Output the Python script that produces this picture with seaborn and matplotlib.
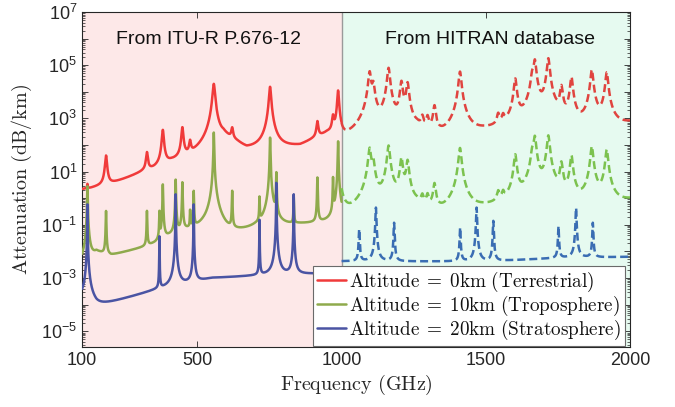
import numpy as np
import pandas as pd
import matplotlib
matplotlib.use("Agg")
import matplotlib.pyplot as plt
import seaborn as sns
from matplotlib.ticker import LogLocator, FuncFormatter, FixedLocator, NullLocator

# ---------------- data ----------------
# absorption lines: centre frequency (GHz), log10 of peak attenuation (dB/km), half width (GHz)
# ITU-R P.676-12 part (100-1000 GHz)
red_itu_f = [118.75, 183.31, 325.15, 380.20, 448.00, 474.69, 556.94, 620.70, 752.03, 916.17, 970.32, 987.93]
red_itu_p = [0.20, 1.58, 1.68, 2.56, 2.65, 2.06, 4.30, 2.60, 4.19, 2.89, 3.08, 4.05]
red_itu_w = [1.0, 3.0, 3.0, 3.0, 3.0, 3.0, 3.5, 3.0, 3.0, 3.0, 3.0, 2.5]
red_itu_bf = [100, 130, 197, 312, 350, 410, 485, 530, 590, 640, 671, 760, 856, 900, 950, 1000]
red_itu_bl = [-0.3, -0.3, 0.0, 0.7, 0.8, 1.15, 1.3, 1.5, 2.3, 2.0, 1.74, 1.8, 1.95, 2.2, 2.45, 2.4]

green_itu_f = [118.75, 183.31, 325.15, 368.50, 380.20, 424.76, 448.00, 474.69, 487.25, 556.94,
               620.70, 715.39, 752.03, 773.84, 834.15, 916.17, 970.32, 987.93]
green_itu_p = [0.45, -0.48, -0.48, -0.50, 0.52, 0.70, 0.60, -0.48, 0.27, 2.47,
               0.27, 0.03, 2.28, 0.97, 0.03, 0.78, 0.78, 2.14]
green_itu_w = [0.8] * len(green_itu_f)
green_itu_bf = [100, 150, 200, 310, 355, 400, 460, 520, 600, 700, 850, 1000]
green_itu_bl = [-2.8, -2.1, -2.3, -2.0, -1.85, -1.55, -1.3, -1.25, -1.5, -1.2, -1.0, -0.9]

blue_itu_f = [118.75, 368.50, 424.76, 487.25, 715.39, 773.84, 834.15]
blue_itu_p = [-0.23, -1.43, 0.15, -0.23, -0.81, 0.58, 0.15]
blue_itu_w = [0.37] * len(blue_itu_f)
blue_itu_bf = [100, 150, 360, 450, 550, 700, 1000]
blue_itu_bl = [-3.8, -4.08, -3.45, -3.25, -3.0, -2.92, -2.8]

# HITRAN part (1000-2000 GHz)
red_hit_f = [987.93, 1097.37, 1110.0, 1162.9, 1207.6, 1228.8, 1280.0, 1298.0, 1322.1, 1410.6,
             1543.0, 1560.0, 1602.2, 1661.0, 1669.9, 1716.8, 1762.0, 1797.0, 1867.7, 1919.4]
red_hit_p = [4.05, 4.76, 4.30, 4.90, 4.39, 4.34, 2.95, 2.95, 3.45, 4.76,
             3.03, 2.90, 4.49, 4.60, 5.20, 5.26, 4.20, 4.55, 4.83, 4.73]
red_hit_w = [2.5] + [4.0] * 19
red_hit_bf = [1000, 1029, 1130, 1200, 1260, 1352, 1491, 1560, 1625, 1830, 1950, 2000]
red_hit_bl = [1.0, 1.0, 1.0, 1.5, 2.3, 1.65, 2.15, 2.2, 1.5, 1.5, 2.5, 2.75]

green_hit_f = red_hit_f
green_hit_p = [2.14, 1.89, 1.40, 1.98, 1.52, 1.42, -0.05, 0.00, 0.52, 1.89,
               0.10, 0.00, 1.64, 1.70, 2.33, 2.36, 1.33, 1.60, 1.95, 1.83]
green_hit_w = [1.5] + [4.0] * 19
green_hit_bf = [1000, 1029, 1130, 1200, 1260, 1352, 1491, 1560, 1625, 1830, 1950, 2000]
green_hit_bl = [-1.9, -1.9, -1.9, -1.4, -0.6, -1.25, -0.75, -0.7, -1.4, -1.4, -0.4, -0.15]

blue_hit_f = [1061.0, 1119.0, 1182.0, 1411.0, 1468.0, 1526.0, 1752.0, 1813.0, 1871.0]
blue_hit_p = [-1.16, -0.35, -0.92, -1.10, -0.35, -0.85, -1.05, -0.36, -0.92]
blue_hit_w = [1.3] * len(blue_hit_f)
blue_hit_bf = [1000, 1500, 1650, 1750, 2000]
blue_hit_bl = [-2.37, -2.38, -2.3, -2.25, -2.2]

labels = [r"$\mathrm{Altitude}\;=\;0\mathrm{km\ (Terrestrial)}$",
          r"$\mathrm{Altitude}\;=\;10\mathrm{km\ (Troposphere)}$",
          r"$\mathrm{Altitude}\;=\;20\mathrm{km\ (Stratosphere)}$"]
region_texts = ["From ITU-R P.676-12", "From HITRAN database"]
x_ticks = [100, 500, 1000, 1500, 2000]

# ---------------- line-by-line spectrum ----------------
def spectrum(f, cf, cp, cw, bf, bl):
    base = 10 ** np.interp(f, bf, bl)
    tot = base.copy()
    for c, p, w in zip(cf, cp, cw):
        amp = max(10 ** p - 10 ** np.interp(c, bf, bl), 0.0)
        tot += amp * w ** 2 / ((f - c) ** 2 + w ** 2)
    return tot

f_lo = np.arange(100.0, 1000.0001, 0.05)
f_hi = np.arange(1000.0, 2000.0001, 0.05)

frames = []
def add(name, f, cf, cp, cw, bf, bl):
    frames.append(pd.DataFrame({"freq": f, "att": spectrum(f, cf, cp, cw, bf, bl), "seg": name}))

add("r_itu", f_lo, red_itu_f, red_itu_p, red_itu_w, red_itu_bf, red_itu_bl)
add("g_itu", f_lo, green_itu_f, green_itu_p, green_itu_w, green_itu_bf, green_itu_bl)
add("b_itu", f_lo, blue_itu_f, blue_itu_p, blue_itu_w, blue_itu_bf, blue_itu_bl)
add("r_hit", f_hi, red_hit_f, red_hit_p, red_hit_w, red_hit_bf, red_hit_bl)
add("g_hit", f_hi, green_hit_f, green_hit_p, green_hit_w, green_hit_bf, green_hit_bl)
add("b_hit", f_hi, blue_hit_f, blue_hit_p, blue_hit_w, blue_hit_bf, blue_hit_bl)
df = pd.concat(frames, ignore_index=True)

# ---------------- style ----------------
sns.set_style("ticks")
plt.rcParams["font.family"] = ["Liberation Sans", "DejaVu Sans"]
plt.rcParams["mathtext.fontset"] = "custom"
plt.rcParams["mathtext.rm"] = "Liberation Sans"
plt.rcParams["mathtext.it"] = "Liberation Sans:italic"
plt.rcParams["mathtext.bf"] = "Liberation Sans:bold"
plt.rcParams["axes.unicode_minus"] = True

fig = plt.figure(figsize=(6.75, 4.07), dpi=100)
ax = fig.add_axes([82 / 675, 1 - 347 / 407, 548 / 675, 335 / 407])

ax.axvspan(100, 1000, color="#FDE8E8", zorder=0, lw=0)
ax.axvspan(1000, 2000, color="#E6FAF0", zorder=0, lw=0)
ax.axvline(1000, color="#9a9a9a", lw=1.0, zorder=1)

solid_cols = ["#F03A3A", "#8FAA4C", "#4A54A3"]
dash_cols = ["#E0443F", "#7CC24F", "#3A6DB3"]
lw = 1.8
for seg, col, lab in zip(["r_itu", "g_itu", "b_itu"], solid_cols, labels):
    sns.lineplot(data=df[df.seg == seg], x="freq", y="att", color=col, lw=lw,
                 estimator=None, sort=False, ax=ax, label=lab, zorder=3)
for seg, col in zip(["r_hit", "g_hit", "b_hit"], dash_cols):
    sns.lineplot(data=df[df.seg == seg], x="freq", y="att", color=col, lw=lw,
                 linestyle=(0, (3.2, 1.6)), estimator=None, sort=False, ax=ax, zorder=3)

ax.set_yscale("log")
ax.set_xlim(100, 2000)
ax.set_ylim(10 ** -5.59, 1e7)

ax.xaxis.set_major_locator(FixedLocator(x_ticks))
ax.xaxis.set_minor_locator(NullLocator())
ax.yaxis.set_major_locator(LogLocator(base=10, numticks=30))
ax.yaxis.set_minor_locator(LogLocator(base=10, subs=np.arange(2, 10), numticks=30))

def yfmt(v, pos):
    e = int(round(np.log10(v)))
    if e % 2 == 0:
        return ""
    return r"$10^{%d}$" % e
ax.yaxis.set_major_formatter(FuncFormatter(yfmt))

ax.tick_params(axis="both", which="both", direction="in", top=True, right=True,
               colors="#262626", labelcolor="#262626", labelsize=13)
ax.tick_params(axis="both", which="major", length=4, width=0.6)
ax.tick_params(axis="y", which="minor", length=2, width=0.5)
for sp in ax.spines.values():
    sp.set_color("#262626")
    sp.set_linewidth(0.8)

xl = ax.set_xlabel(r"$\mathrm{Frequency\ (GHz)}$", fontsize=14.5, color="#262626", labelpad=3)
yl = ax.set_ylabel(r"$\mathrm{Attenuation\ (dB/km)}$", fontsize=14.5, color="#262626", labelpad=5)
xl.set_math_fontfamily("cm")
yl.set_math_fontfamily("cm")

ax.text(540, 10 ** 5.95, region_texts[0], ha="center", va="center", fontsize=14, color="#111111")
ax.text(1513, 10 ** 5.95, region_texts[1], ha="center", va="center", fontsize=14, color="#111111")

leg = ax.legend(loc="upper left", bbox_to_anchor=(0.4215, 0.2418), borderaxespad=0,
                fontsize=13.8, frameon=True, fancybox=False, framealpha=1, edgecolor="#6a6a6a",
                handlelength=1.5, handletextpad=0.2, labelspacing=0.0, borderpad=0.2)
leg.get_frame().set_linewidth(0.8)
for t in leg.get_texts():
    t.set_math_fontfamily("cm")
    t.set_color("#111111")
leg.set_zorder(5)

fig.savefig("out.png", dpi=100)
